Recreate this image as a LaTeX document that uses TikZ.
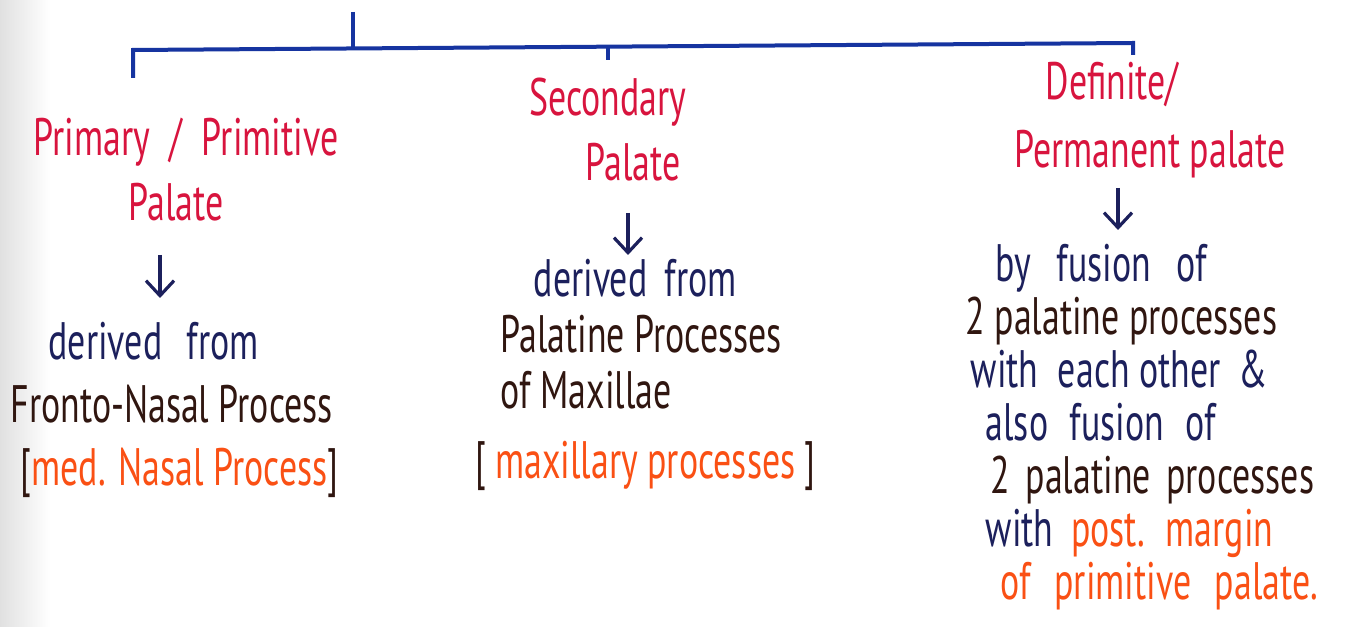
\documentclass[tikz,border=0pt]{standalone}
\usepackage{fontspec}
\setmainfont[FakeStretch=0.68]{PT Sans}
\usetikzlibrary{arrows.meta}
\definecolor{treeblue}{RGB}{22,52,160}
\definecolor{headred}{RGB}{216,20,62}
\definecolor{inkblue}{RGB}{28,32,92}
\definecolor{inkbrown}{RGB}{48,22,16}
\definecolor{notered}{RGB}{250,80,20}
\newcommand{\gap}[1]{\hspace{#1}}
\tikzstyle{heading} = [text=headred, align=center, inner sep=0pt,
                       font=\fontsize{15}{18.5}\selectfont]
\tikzstyle{notes} = [text=inkbrown, inner sep=0pt, align=left, anchor=west]
\tikzstyle{tree} = [draw=treeblue, line width=0.4mm]
\tikzstyle{arrow} = [draw=inkblue, line width=0.32mm, ->,
                     >={Straight Barb[length=1.5mm,width=2.8mm]}]

\begin{document}
\begin{tikzpicture}
        \useasboundingbox (0,0) rectangle (13.58,-6.27);
        \fill[white] (0,0) rectangle (13.58,-6.27);
        \shade[left color=black!12, right color=white] (0,0) rectangle (0.5,-6.27);

        %Tree
        \coordinate (root) at (3.53,-0.12);
        \coordinate (barL) at (1.33,-0.50);
        \coordinate (barM) at (6.08,-0.47);
        \coordinate (barR) at (11.33,-0.43);
        \draw [tree] (root) -- (root |- barL);
        \draw [tree] (barL) ++(0,-0.28) -- (barL) -- (barR) -- ++(0,-0.12);
        \draw [tree] (barM) -- ++(0,-0.13);

        %Palate headings
        \node (primary) [heading] at (1.86,-1.70)
              {Primary\gap{0.1cm} / \gap{0.1cm}Primitive\\\hspace*{-0.2cm}Palate};
        \node (secondary) [heading] at (6.08,-1.30) {Secondary\\\hspace*{0.5cm}Palate};
        \node (definite) [heading] at (11.50,-1.20)
              {Definite/\hspace*{0.76cm}\\[1pt]Permanent palate};

        %Primary palate
        \node (primorigin) [notes, font=\fontsize{15}{18}\selectfont]
              at (0.10,-4.10)
              {\hspace*{0.38cm}\textcolor{inkblue}{derived\gap{0.15cm} from}\\
               Fronto-Nasal Process\\
               \hspace*{0.10cm}[\textcolor{notered}{med. Nasal Process}]};

        %Secondary palate
        \node (secorigin) [notes, font=\fontsize{15}{16}\selectfont]
              at (4.75,-3.75)
              {\hspace*{0.58cm}\textcolor{inkblue}{derived\gap{0.08cm} from}\\
               \hspace*{0.25cm}Palatine Processes\\
               \hspace*{0.25cm}of Maxillae\\[4pt]
               [\,\textcolor{notered}{maxillary processes}\,]};

        %Definite palate
        \node (deforigin) [notes, font=\fontsize{15}{15.1}\selectfont]
              at (9.65,-4.27)
              {\hspace*{0.30cm}\textcolor{inkblue}{by\gap{0.16cm} fusion\gap{0.16cm} of}\\
               2 palatine processes\\
               \hspace*{0.05cm}\textcolor{inkblue}{with\gap{0.1cm} each other\gap{0.08cm} \&}\\
               \hspace*{0.20cm}\textcolor{inkblue}{also\gap{0.12cm} fusion\gap{0.12cm} of}\\
               \hspace*{0.25cm}2\gap{0.06cm} palatine\gap{0.06cm} processes\\
               \hspace*{0.20cm}\textcolor{inkblue}{with}\gap{0.08cm} \textcolor{notered}{post.\gap{0.08cm} margin}\\
               \hspace*{0.35cm}\textcolor{notered}{of\gap{0.14cm} primitive\gap{0.14cm} palate.}};

        %Arrows
        \coordinate (a1) at (1.60,-2.55);
        \coordinate (b1) at (1.60,-2.98);
        \coordinate (a2) at (6.28,-2.13);
        \coordinate (b2) at (6.28,-2.55);
        \coordinate (a3) at (11.18,-1.88);
        \coordinate (b3) at (11.18,-2.30);
        \draw [arrow] (a1) -- (b1);
        \draw [arrow] (a2) -- (b2);
        \draw [arrow] (a3) -- (b3);

\end{tikzpicture}
\end{document}
